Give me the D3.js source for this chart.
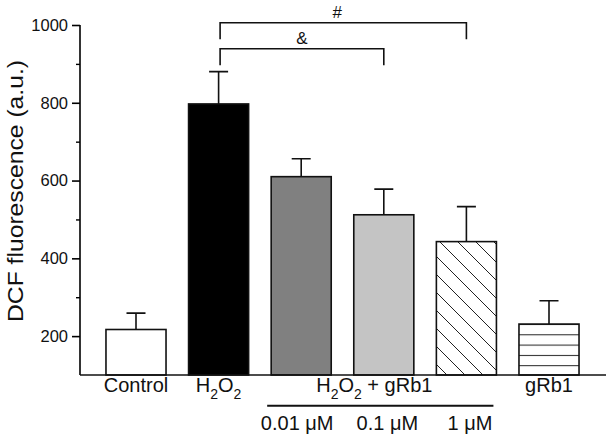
<!DOCTYPE html>
<html>
<head>
<meta charset="utf-8">
<script src="https://d3js.org/d3.v7.min.js"></script>
<style>
  body { margin: 0; background: #fff; }
  svg text { font-family: "Liberation Sans", Arial, sans-serif; fill: #111; }
</style>
</head>
<body>
<script>
// data
var categories = ["Control", "H2O2", "0.01", "0.1", "1", "gRb1"];
var means = [217, 797, 610, 512, 443, 231];
var errors = [42, 83, 46, 66, 90, 60];
var majorTicks = [200, 400, 600, 800, 1000];
var minorTicks = [300, 500, 700, 900];
var doseLabels = ["0.01 \u03bcM", "0.1 \u03bcM", "1 \u03bcM"];
var brackets = [
  {from: "H2O2", to: "1", mark: "#", level: 0},
  {from: "H2O2", to: "0.1", mark: "&", level: 1}
];

var width = 612, height = 440;
var plotLeft = 80, plotRight = 606, plotTop = 25, base = 375;

var svg = d3.select("body").append("svg")
  .attr("width", width).attr("height", height);

var defs = svg.append("defs");
var diag = defs.append("pattern").attr("id", "diag")
  .attr("patternUnits", "userSpaceOnUse")
  .attr("width", 18).attr("height", 18);
diag.append("rect").attr("width", 18).attr("height", 18).attr("fill", "#fff");
diag.append("path").attr("d", "M-2,-2L20,20M-2,16L2,20M16,-2L20,2")
  .attr("stroke", "#222").attr("stroke-width", 1);
var horiz = defs.append("pattern").attr("id", "horiz")
  .attr("patternUnits", "userSpaceOnUse")
  .attr("width", 10).attr("height", 10.3).attr("y", 4.7);
horiz.append("rect").attr("width", 10).attr("height", 10.3).attr("fill", "#fff");
horiz.append("line").attr("x1", 0).attr("x2", 10).attr("y1", 0.5).attr("y2", 0.5)
  .attr("stroke", "#222").attr("stroke-width", 1);

var fills = {"Control": "#fff", "H2O2": "#000", "0.01": "#808080",
             "0.1": "#c4c4c4", "1": "url(#diag)", "gRb1": "url(#horiz)"};

var x = d3.scaleBand().domain(categories).range([94.7, 590.3])
  .paddingInner(0.273).paddingOuter(0.1365);
var y = d3.scaleLinear().domain([100, 1000]).range([base, plotTop]);
var cx = function(c) { return x(c) + x.bandwidth() / 2; };

// y axis
var ya = svg.append("g").attr("transform", "translate(" + plotLeft + ",0)")
  .call(d3.axisLeft(y).tickValues(majorTicks).tickFormat(d3.format("d"))
    .tickSize(8).tickSizeOuter(0).tickPadding(4));
ya.select(".domain").attr("stroke-width", 1.6).attr("d", "M0," + plotTop + "V" + base);
ya.selectAll(".tick line").attr("stroke-width", 1.6);
ya.selectAll(".tick text").attr("font-size", 16.5)
  .attr("font-family", "Liberation Sans, Arial, sans-serif").attr("fill", "#111");
var ym = svg.append("g").attr("transform", "translate(" + plotLeft + ",0)")
  .call(d3.axisLeft(y).tickValues(minorTicks).tickSize(4).tickFormat(""));
ym.select(".domain").remove();
ym.selectAll(".tick line").attr("stroke-width", 1.4);

svg.append("text")
  .attr("transform", "translate(23," + 191 + ") rotate(-90)")
  .attr("text-anchor", "middle").attr("font-size", 22)
  .attr("textLength", 262).attr("lengthAdjust", "spacingAndGlyphs")
  .text("DCF fluorescence (a.u.)");

// bars
var data = categories.map(function(c, i) { return {c: c, m: means[i], e: errors[i]}; });

svg.selectAll(".err").data(data).enter().append("path")
  .attr("class", "err")
  .attr("d", function(d) {
    var xc = cx(d.c), yt = y(d.m + d.e);
    return "M" + xc + "," + y(d.m) + "V" + yt + "M" + (xc - 9.5) + "," + yt + "H" + (xc + 9.5);
  })
  .attr("stroke", "#111").attr("stroke-width", 1.6).attr("fill", "none");

svg.selectAll(".bar").data(data).enter().append("rect")
  .attr("class", "bar")
  .attr("x", function(d) { return x(d.c); })
  .attr("width", x.bandwidth())
  .attr("y", function(d) { return y(d.m); })
  .attr("height", function(d) { return base - y(d.m); })
  .attr("fill", function(d) { return fills[d.c]; })
  .attr("stroke", "#111").attr("stroke-width", 1.6);

// x axis line
svg.append("line").attr("x1", plotLeft).attr("x2", plotRight)
  .attr("y1", base).attr("y2", base)
  .attr("stroke", "#111").attr("stroke-width", 1.6);

// category labels
function h2o2(sel, rest) {
  sel.append("tspan").text("H");
  sel.append("tspan").attr("font-size", 14).attr("dy", 7).text("2");
  sel.append("tspan").attr("dy", -7).text("O");
  sel.append("tspan").attr("font-size", 14).attr("dy", 7).text("2");
  if (rest) sel.append("tspan").attr("dy", -7).text(rest);
}
svg.append("text").attr("x", cx("Control")).attr("y", 392)
  .attr("text-anchor", "middle").attr("font-size", 20).text("Control");
svg.append("text").attr("x", cx("H2O2")).attr("y", 392)
  .attr("text-anchor", "middle").attr("font-size", 20).call(h2o2);
svg.append("text").attr("x", cx("gRb1")).attr("y", 392)
  .attr("text-anchor", "middle").attr("font-size", 20).text("gRb1");

var gx0 = x("0.01") - 4, gx1 = x("1") + x.bandwidth() - 3;
svg.append("text").attr("x", (gx0 + gx1) / 2 - 6).attr("y", 392)
  .attr("text-anchor", "middle").attr("font-size", 20).call(h2o2, " + gRb1");
svg.append("line").attr("x1", gx0).attr("x2", gx1)
  .attr("y1", 405.7).attr("y2", 405.7)
  .attr("stroke", "#111").attr("stroke-width", 2);
var doseShift = [-4, 3.5, 3.5];
svg.selectAll(".dose").data(doseLabels).enter().append("text")
  .attr("class", "dose")
  .attr("x", function(d, i) { return cx(categories[i + 2]) + doseShift[i]; })
  .attr("y", 430).attr("text-anchor", "middle").attr("font-size", 20)
  .text(function(d) { return d; });

// significance brackets
brackets.forEach(function(b) {
  var yb = 22.7 + b.level * 26, x0 = cx(b.from) + 1.5, x1 = cx(b.to);
  svg.append("path")
    .attr("d", "M" + x0 + "," + (yb + 16.5) + "V" + yb + "H" + x1 + "V" + (yb + 16.5))
    .attr("fill", "none").attr("stroke", "#111").attr("stroke-width", 1.6);
  svg.append("text").attr("x", (x0 + x1) / 2 - (b.level ? 0 : 6)).attr("y", yb - 4.5)
    .attr("text-anchor", "middle").attr("font-size", 17).text(b.mark);
});
</script>
</body>
</html>
